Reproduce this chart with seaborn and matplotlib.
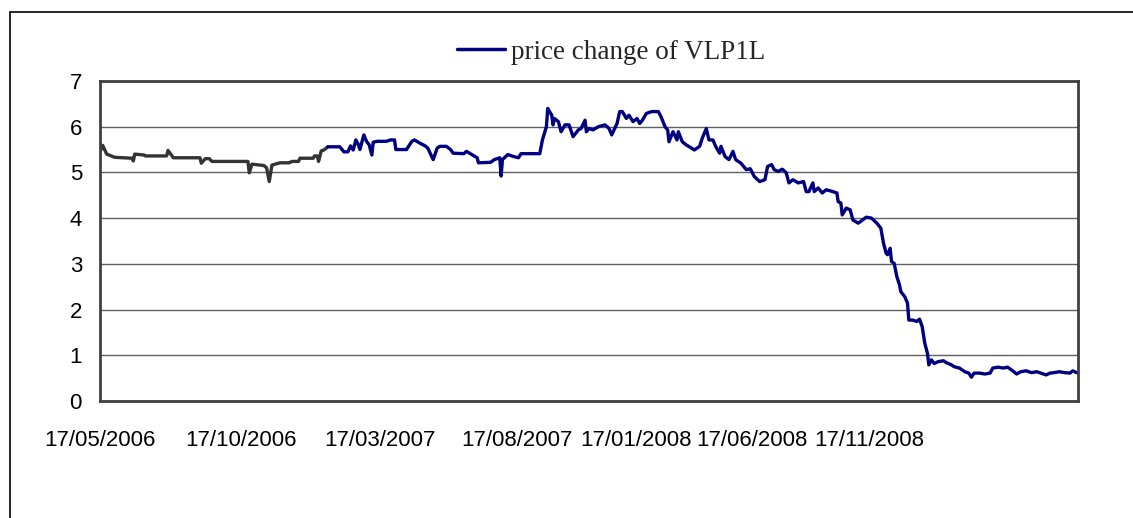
import pandas as pd
import seaborn as sns
import numpy as np
import matplotlib.pyplot as plt
from matplotlib.lines import Line2D

gray_days = [0, 2, 5, 11, 24, 25, 26, 33, 34, 50, 51, 55, 75, 76, 79, 82, 84,
             111, 112, 114, 123, 125, 127, 129, 135, 142, 144, 149, 150, 160,
             161, 163, 164, 166, 168, 171]
gray_price = [5.45, 5.59, 5.40, 5.33, 5.31, 5.25, 5.40, 5.38, 5.36, 5.36, 5.48,
              5.32, 5.32, 5.20, 5.30, 5.30, 5.24, 5.24, 4.99, 5.18, 5.15, 5.10,
              4.80, 5.16, 5.21, 5.21, 5.24, 5.24, 5.31, 5.31, 5.36, 5.36, 5.24,
              5.47, 5.49, 5.56]

blue_days = [171, 180, 183, 186, 188, 190, 192, 194, 195, 198, 200, 202, 204,
             205, 208, 215, 218, 221, 222, 230, 234, 236, 240, 244, 246, 250,
             253, 255, 260, 263, 265, 273, 275, 279, 283, 284, 293, 296, 300,
             301, 302, 306, 310, 314, 316, 330, 332, 335, 336, 339, 340, 341,
             344, 346, 349, 352, 355, 356, 359, 361, 364, 365, 367, 370, 374,
             379, 382, 384, 388, 390, 392, 395, 397, 400, 403, 405, 407, 410,
             414, 419, 421, 424, 426, 427, 430, 433, 434, 437, 440, 444, 446,
             450, 452, 455, 457, 460, 462, 465, 466, 469, 472, 475, 477, 481,
             485, 488, 491, 495, 499, 501, 504, 506, 509, 512, 515, 517, 520,
             524, 528, 530, 532, 535, 536, 539, 542, 545, 550, 553, 554, 556,
             557, 560, 563, 565, 569, 571, 575, 579, 583, 586, 588, 590, 591,
             593, 594, 596, 598, 600, 601, 604, 606, 607, 610, 613, 615, 617,
             619, 621, 622, 624, 626, 629, 633, 635, 639, 641, 645, 649, 652,
             654, 656, 660, 664, 668, 670, 674, 678, 681, 684, 688, 691, 695,
             699, 703, 706, 710, 713, 716, 720, 724, 728, 730, 733]
blue_price = [5.56, 5.56, 5.45, 5.45, 5.58, 5.49, 5.71, 5.60, 5.50, 5.82, 5.68,
              5.60, 5.38, 5.66, 5.68, 5.68, 5.71, 5.71, 5.50, 5.50, 5.68, 5.71,
              5.64, 5.58, 5.53, 5.28, 5.53, 5.57, 5.57, 5.50, 5.42, 5.41, 5.46,
              5.39, 5.32, 5.21, 5.22, 5.28, 5.32, 4.92, 5.28, 5.39, 5.35, 5.32,
              5.41, 5.41, 5.71, 6.00, 6.40, 6.25, 6.04, 6.18, 6.11, 5.89, 6.04,
              6.04, 5.78, 5.82, 5.93, 5.96, 6.14, 5.89, 5.96, 5.93, 6.00, 6.04,
              5.96, 5.82, 6.07, 6.33, 6.33, 6.18, 6.25, 6.11, 6.18, 6.07, 6.14,
              6.29, 6.33, 6.33, 6.22, 6.00, 5.93, 5.67, 5.89, 5.71, 5.89, 5.67,
              5.60, 5.53, 5.49, 5.57, 5.75, 5.96, 5.71, 5.71, 5.57, 5.42, 5.57,
              5.35, 5.28, 5.46, 5.28, 5.20, 5.06, 5.08, 4.91, 4.80, 4.84, 5.13,
              5.17, 5.06, 5.02, 5.07, 4.99, 4.77, 4.84, 4.77, 4.80, 4.58, 4.58,
              4.77, 4.58, 4.66, 4.55, 4.62, 4.58, 4.55, 4.36, 4.33, 4.07, 4.22,
              4.18, 3.96, 3.89, 3.93, 4.02, 4.00, 3.89, 3.78, 3.45, 3.23, 3.20,
              3.34, 3.05, 3.01, 2.72, 2.54, 2.39, 2.28, 2.14, 1.77, 1.77, 1.74,
              1.79, 1.63, 1.26, 1.04, 0.79, 0.90, 0.82, 0.86, 0.88, 0.84, 0.79,
              0.75, 0.72, 0.64, 0.61, 0.52, 0.61, 0.61, 0.59, 0.61, 0.72, 0.74,
              0.72, 0.74, 0.68, 0.59, 0.64, 0.66, 0.62, 0.64, 0.61, 0.57, 0.61,
              0.62, 0.64, 0.62, 0.61, 0.66, 0.62]

tick_days = [0, 106, 210, 313, 402, 489, 577]
tick_labels = ["17/05/2006", "17/10/2006", "17/03/2007", "17/08/2007",
               "17/01/2008", "17/06/2008", "17/11/2008"]
last_day = 734

df_gray = pd.DataFrame({"day": gray_days, "price": gray_price})
df_blue = pd.DataFrame({"day": blue_days, "price": blue_price})

sns.set_style("white")
plt.rcParams["font.family"] = ["Liberation Sans", "DejaVu Sans"]

fig = plt.figure(figsize=(11.33, 5.18), dpi=100)
ax = fig.add_axes([0.0883, 0.2259, 0.8632, 0.6178])

sns.lineplot(data=df_gray, x="day", y="price", color="#333333", lw=2.4, ax=ax)
sns.lineplot(data=df_blue, x="day", y="price", color="#000080", lw=2.4, ax=ax)

ax.set_xlim(0, last_day)
ax.set_ylim(0, 7)
ax.set_yticks(range(8))
ax.set_xticks(tick_days)
ax.set_xticklabels(tick_labels)
ax.set_xlabel("")
ax.set_ylabel("")
ax.yaxis.grid(True, color="#606060", lw=1)
ax.set_axisbelow(True)
for s in ax.spines.values():
    s.set_visible(True)
    s.set_color("#404040")
    s.set_linewidth(2)
ax.tick_params(axis="both", direction="out", length=6, width=1,
               color="#404040", labelsize=16, labelcolor="black")
ax.tick_params(axis="x", pad=15)
ax.tick_params(axis="y", pad=7)

handle = Line2D([0], [0], color="#000080", lw=2.5)
ax.legend([handle], ["price change of VLP1L"], loc="center",
          bbox_to_anchor=(0.523, 1.09), frameon=False, handlelength=1.75,
          handletextpad=0.25, prop={"family": "Liberation Serif", "size": 19.5})

# outer chart frame (cropped at right and bottom)
fig.add_artist(Line2D([0.0088, 0.0088], [0, 0.9768], color="black", lw=1.2,
                      transform=fig.transFigure))
fig.add_artist(Line2D([0.0088, 1], [0.9768, 0.9768], color="black", lw=1.2,
                      transform=fig.transFigure))

fig.savefig("out.png", dpi=100)
